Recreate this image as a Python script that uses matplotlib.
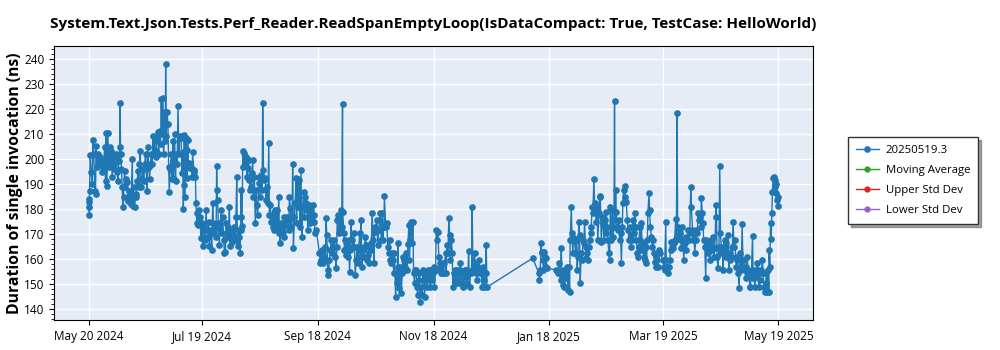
import datetime as dt

import matplotlib
matplotlib.use("Agg")
import matplotlib.pyplot as plt
import matplotlib.dates as mdates
from matplotlib.ticker import AutoMinorLocator, MultipleLocator
import numpy as np

plt.rcParams["font.family"] = ["Open Sans", "DejaVu Sans"]

# --- run timings: day offset from 2024-05-20, duration in ns ---
START = dt.datetime(2024, 5, 20)

days_summer = [
    0.0, 0.05, 0.2, 0.5, 0.55, 0.9, 1.4, 1.9, 2.3, 2.8, 3.3, 3.7, 4.0, 4.4, 4.9, 5.5,
    6.2, 6.7, 7.2, 7.9, 8.5, 9.0, 9.3, 9.7, 10.2, 10.7, 11.1, 11.6, 12.0, 12.5, 12.9,
    13.4, 13.7, 14.3, 14.6, 15.1, 15.5, 16.0, 16.4, 16.7, 16.9, 17.4, 17.8, 18.1, 18.5,
    19.0, 19.4, 19.9, 20.2, 20.8, 21.3, 21.7, 22.2, 22.5, 23.1, 23.4, 23.8, 24.3, 24.8,
    25.2, 25.7, 26.1, 26.6, 26.9, 27.3, 27.8, 28.3, 28.7, 29.2, 29.6, 30.1, 30.5, 30.8,
    31.3, 31.9, 32.2, 32.7, 33.1, 33.6, 34.0, 34.5, 34.9, 35.4, 35.7, 36.3, 36.6, 37.1,
    37.5, 38.0, 38.4, 38.7, 39.3, 39.6, 40.1, 40.5, 40.7, 41.0, 41.4, 41.9, 42.3, 42.6,
    43.1, 43.7, 44.2, 44.5, 44.9, 45.4, 45.9, 46.3, 46.8, 47.2, 47.7, 48.1,
    48.8, 49.3, 49.7, 50.0, 50.4, 50.5, 50.9, 51.4, 51.8, 52.1, 52.3, 52.8, 53.2, 53.7,
    54.1, 54.6, 54.9, 55.5, 55.8, 56.4, 56.7, 57.1, 57.2, 57.6, 58.1, 58.5, 58.8, 59.3,
    59.7, 60.2, 60.6, 61.1, 61.6, 62.0, 62.5, 62.9, 63.4, 63.7, 64.3, 64.6, 65.0, 65.5,
    65.9, 66.4, 66.9, 67.3, 67.6, 67.8, 68.1, 68.5, 69.0, 69.4, 69.9, 70.3, 70.8, 71.3,
    71.7, 72.2, 72.5, 73.1, 73.4, 74.0, 74.3, 74.7, 75.2, 75.7, 76.1, 76.6, 76.9, 77.5,
    77.8, 78.2, 78.5, 78.7, 79.2, 79.6, 79.9, 80.3, 80.5, 80.6, 81.0, 81.4, 81.7, 82.2,
    82.8, 83.1, 83.6, 84.0, 84.5, 84.9, 85.4, 85.8, 86.3, 86.6, 87.0, 87.5, 88.0, 88.4,
    88.7, 89.3, 89.8, 90.2, 90.7, 91.0, 91.6, 91.9, 92.3, 92.8, 93.3, 93.7, 94.0, 94.6,
    95.1, 95.4, 96.0, 96.3, 96.8, 97.2, 97.7, 98.1, 98.6, 98.9, 99.5, 99.8, 100.4,
]
vals_summer = [
    184.0, 182.7, 180.7, 177.6, 187.3, 201.5, 194.7, 190.0, 207.6, 202.0, 187.3, 186.0,
    205.3, 196.7, 202.0, 198.0, 200.7, 199.3, 194.7, 196.7, 204.7, 191.3, 210.3, 189.3,
    210.3, 196.7, 204.7, 198.0, 203.3, 192.7, 202.0, 196.0, 198.0, 202.0, 200.7, 194.7,
    191.3, 199.3, 204.7, 222.3, 202.0, 196.0, 188.7, 180.7, 184.7, 195.3, 188.7, 192.0,
    190.7, 183.3, 187.3, 184.7, 182.0, 183.3, 200.0, 181.3, 188.7, 180.7, 184.7, 186.0,
    191.3, 195.3, 188.7, 198.0, 203.3, 188.7, 192.0, 196.0, 191.3, 198.0, 202.0, 196.0,
    187.3, 204.7, 196.7, 192.0, 198.0, 202.0, 198.0, 209.3, 202.0, 207.3, 200.7, 203.3,
    208.7, 210.7, 202.0, 211.1, 206.0, 224.0, 210.0, 224.4, 202.0, 218.7, 207.3, 237.8,
    209.3, 218.7, 214.0, 196.7, 186.7, 196.0, 202.0, 192.0, 207.3, 192.0, 210.0, 191.3,
    202.0, 198.0, 221.3, 202.0, 209.3,
    208.3, 194.3, 202.9, 180.0, 189.6, 209.6, 184.9, 208.3, 203.6, 192.3, 207.6, 196.9,
    198.3, 196.3, 196.9, 192.9, 202.7, 195.6, 194.9, 192.7, 182.3, 174.3, 178.3, 173.6,
    179.6, 174.3, 176.9, 168.3, 174.3, 165.0, 171.6, 172.9, 167.6, 179.6, 171.6, 168.9,
    174.9, 165.0, 170.3, 171.6, 163.6, 182.3, 174.3, 170.3, 172.9, 168.9, 197.2, 187.6,
    183.6, 174.3, 165.6, 171.6, 179.6, 170.3, 176.9, 167.6, 162.3, 162.9, 174.3, 168.9,
    172.9, 168.9, 180.9, 165.0, 170.3, 166.9, 171.6, 168.9, 172.9, 167.6, 176.9, 192.7,
    168.9, 165.0, 171.6, 168.9, 162.3, 171.6, 187.6, 176.9, 173.2, 203.0, 196.9, 202.3,
    197.6, 200.9, 192.9, 196.3, 199.6, 191.6, 187.6, 188.9, 194.3, 199.6, 184.9, 192.9,
    174.3, 187.6, 181.6, 177.6, 192.9, 190.3, 184.9, 193.6, 187.6, 222.3, 195.6, 191.6,
    192.3, 183.6, 188.9, 182.3, 206.3, 177.6, 181.6, 174.9, 176.9, 172.9, 178.3, 171.6,
    179.6, 174.3, 179.6, 172.9, 184.9,
]

days_autumn = [
    100.7, 101.2, 101.6, 102.1, 102.4, 103.0, 103.3, 103.9, 104.2, 104.7, 105.1, 105.6,
    106.0, 106.5, 106.9, 107.4, 107.7, 108.1, 108.6, 109.0, 109.5, 109.8, 110.4, 110.7,
    111.3, 111.6, 112.1, 112.5, 113.0, 113.5, 113.9, 114.2, 114.8, 115.3, 115.7, 116.0,
    116.5, 117.1, 117.4, 117.9, 118.3, 118.8, 119.2, 119.5, 120.2,
    121.8, 122.3, 122.7, 123.2, 123.6, 124.1, 124.5, 125.0, 125.3, 125.7, 126.2, 126.6,
    127.1, 127.6, 128.0, 128.5, 128.9, 129.4, 129.7, 130.3, 130.6, 131.0, 131.2, 131.5,
    131.9, 132.4, 132.9, 133.3, 133.6, 134.0, 134.1, 134.7, 135.0, 135.5, 135.9, 136.4,
    136.8, 137.3, 137.7, 138.2, 138.5, 138.9, 139.4, 139.9, 140.3, 140.7, 141.2, 141.7,
    142.1, 142.6, 143.0, 143.5, 143.8, 144.2, 144.7, 145.2, 145.6, 146.1, 146.5, 147.0,
    147.3, 147.9, 148.2, 148.8, 149.1, 149.6, 150.2, 150.5,
    150.9, 151.4, 152.1, 152.6, 153.1, 153.9, 154.4, 154.9, 155.3, 155.8, 156.1, 156.7,
    157.4, 157.9, 158.4, 158.8, 159.1, 159.7, 160.2, 160.5, 161.1, 161.4, 162.0, 162.3,
    162.8, 163.2, 163.5, 163.7, 164.1, 164.4, 165.0, 165.5, 165.8, 166.4, 166.7, 167.2,
    167.6, 168.1, 168.5, 169.0, 169.3, 169.7, 170.2, 170.8, 171.1, 171.5, 172.0, 172.3,
    172.9, 173.2, 173.7, 174.3, 174.6, 175.0, 175.5, 176.0, 176.4, 176.7, 177.3, 177.8,
    178.1, 178.5, 179.0, 179.6, 179.9, 180.4, 180.8, 181.3,
]
vals_autumn = [
    170.3, 166.3, 174.3, 171.6, 170.9, 176.9, 168.9, 174.3, 173.6, 176.9, 175.6, 171.6,
    184.9, 180.3, 172.9, 176.9, 198.0, 164.5, 176.9, 182.3, 192.3, 174.3, 191.9, 180.9,
    191.6, 172.9, 195.6, 168.9, 180.9, 186.9, 176.9, 184.9, 182.3, 179.6, 171.6, 176.9,
    181.6, 174.3, 179.6, 175.6, 181.6, 177.6, 174.9, 170.3, 171.6,
    162.3, 158.3, 159.6, 163.6, 158.3, 160.9, 164.9, 159.6, 176.3, 169.6, 155.6, 153.6,
    159.6, 163.6, 167.6, 162.3, 164.9, 167.6, 164.9, 160.9, 156.3, 164.9, 175.6, 177.6,
    170.3, 176.3, 171.6, 179.6, 172.9, 221.8, 178.9, 170.3, 163.6, 167.6, 161.6, 166.3,
    160.9, 167.6, 154.9, 163.6, 174.9, 167.6, 164.9, 170.3, 164.9, 153.6, 159.6, 164.9,
    158.3, 163.6, 170.3, 160.9, 175.6, 156.9, 163.6, 160.9, 164.9, 168.9, 165.6, 159.6,
    161.6, 164.9, 158.3, 166.3, 163.6, 178.3, 167.6, 158.3,
    170.9, 172.9, 175.6, 165.6, 171.6, 178.3, 167.6, 178.5, 167.6, 172.9, 185.2, 172.9,
    174.5, 164.9, 162.3, 167.6, 159.6, 158.3, 162.3, 159.6, 154.3, 162.3, 144.9, 154.3,
    150.3, 166.3, 156.9, 148.3, 154.3, 156.9, 146.5, 154.3, 160.9, 155.6, 159.6, 156.9,
    162.3, 155.6, 166.0, 173.6, 159.6, 167.6, 174.9, 166.3, 174.9, 154.3, 150.3, 155.6,
    155.6, 148.9, 145.6, 154.3, 151.6, 142.9, 148.9, 145.6, 154.3, 155.6, 144.9, 154.3,
    153.6, 148.9, 155.6, 151.6, 155.6, 148.9, 155.6, 151.6,
]

days_winter = [
    181.7, 182.2, 182.5, 183.1, 183.4, 184.0, 184.3, 184.8, 185.2, 185.5, 186.1, 186.6,
    186.9, 187.3, 187.8, 188.4, 188.7, 189.1, 189.6, 190.1, 190.5, 190.8, 191.4, 191.9,
    192.2, 192.8, 193.1, 193.6, 194.0, 194.5, 194.9, 195.4, 195.8, 196.1, 196.6, 197.2,
    197.5, 198.0, 198.4, 198.9, 199.3, 199.6, 200.2, 200.5, 201.0, 201.6, 202.1, 202.4,
    202.8, 203.3, 203.7, 204.2, 204.6, 205.1, 205.4, 206.0, 206.3, 206.8, 207.2, 207.7,
    208.1, 208.6, 208.9, 209.5, 209.8, 210.2,
    234.3,
    237.6, 237.9, 238.3, 238.8, 239.0, 239.3, 239.7, 240.0, 240.4, 240.7, 241.1, 241.4,
    241.8, 246.7, 247.6, 248.1, 248.5, 249.0, 249.4, 249.7, 250.3, 250.6, 251.1, 251.7,
    252.0, 252.5, 252.9, 253.4, 253.8, 254.1, 254.7, 255.0, 255.5, 255.9, 256.4, 256.9,
    257.3, 257.8, 258.2, 258.7, 259.1, 259.4, 259.9, 260.5, 260.8, 261.3, 261.7, 262.2,
    262.6, 263.1, 263.5, 264.0, 264.3, 264.9, 265.2, 265.7, 266.1, 266.6, 267.0, 267.5,
    267.9, 268.2, 268.7, 269.3, 269.6, 270.0, 270.5, 271.0, 271.4, 271.9, 272.3, 272.8,
    273.1, 273.7, 274.0, 274.5, 274.9, 275.3, 275.8, 276.3, 276.7, 277.2, 277.5, 277.7,
    278.1, 278.4, 278.9, 279.3, 279.8, 280.2, 280.7, 281.1, 281.6, 281.9, 282.3, 282.8,
    283.2, 283.7, 284.2, 284.6, 285.1, 285.5, 286.0, 286.3, 286.9, 287.2, 287.8, 288.1,
    288.6, 289.0, 289.5, 289.9, 290.4, 290.7, 291.1, 291.6, 292.2, 292.5, 293.0, 293.4,
    293.9, 294.3, 294.8, 295.1, 295.7, 296.0, 296.4, 296.9, 297.4, 297.8, 298.1, 298.7,
    299.2, 299.5, 300.1, 300.4, 301.0, 301.7,
]
vals_winter = [
    154.3, 156.9, 148.9, 155.6, 171.6, 167.6, 170.9, 160.9, 156.9, 158.3, 154.3, 154.3,
    158.3, 154.3, 158.3, 162.3, 154.3, 165.6, 162.3, 176.4, 169.6, 159.6, 167.6, 162.3,
    148.9, 154.3, 155.6, 151.6, 150.3, 155.6, 154.3, 150.3, 155.6, 158.3, 151.6, 154.3,
    148.9, 149.2, 155.6, 152.9, 155.6, 150.3, 154.3, 163.3, 148.9, 154.3, 155.6, 180.9,
    155.6, 158.3, 162.3, 154.3, 156.9, 151.6, 156.9, 159.6, 154.3, 155.6, 154.3, 148.9,
    156.9, 151.6, 148.9, 154.3, 165.6, 148.7,
    160.3,
    154.3, 151.6, 155.6, 166.3, 162.9, 162.3, 159.6, 155.6, 162.9, 160.9, 156.9, 160.3,
    156.3, 155.6, 154.5, 158.3, 154.3, 151.6, 164.3, 154.3, 149.6, 155.6, 148.9, 154.3,
    152.3, 156.9, 147.6, 156.9, 146.9, 167.6, 180.9, 170.3, 162.3, 168.3, 167.6, 162.3,
    167.6, 155.6, 160.9, 174.9, 169.6, 150.3, 162.3, 159.6, 167.6, 166.3, 174.9, 164.9,
    160.3, 162.3, 159.6, 164.9, 167.6, 170.3, 172.9, 180.9, 178.3, 191.9, 182.3, 179.6,
    174.9, 180.9, 167.6, 178.3, 184.9, 185.2, 166.9, 176.9, 174.3, 167.6, 175.6, 170.3,
    178.9, 172.9, 167.6, 162.3, 159.6, 180.9, 167.6, 179.6, 168.9, 172.9, 223.3, 175.6,
    187.6, 178.9, 172.9, 171.6, 175.6, 167.6, 170.3, 158.3, 172.9, 182.3, 187.6, 189.2,
    184.9, 182.9, 175.6, 171.6, 167.6, 172.9, 164.9, 169.6, 167.6, 175.6, 170.3, 178.3,
    172.9, 167.6, 162.3, 160.9, 164.9, 172.9, 167.6, 174.5, 163.6, 166.3, 160.9, 159.6,
    164.9, 158.3, 167.6, 178.3, 186.3, 179.6, 172.9, 168.9, 164.9, 167.6, 162.3, 158.9,
    160.9, 156.9, 159.6, 156.9, 163.6, 162.3,
]

days_spring = [
    303.1, 303.6, 303.9, 304.5, 304.8, 305.4, 305.7, 306.2, 306.6, 307.1, 307.5, 308.0,
    308.3, 308.9, 309.2, 309.8, 310.1, 310.5, 310.8, 311.2, 311.5, 311.9, 312.4, 312.8,
    313.3, 313.6, 314.0, 314.5, 315.0, 315.4, 315.9, 316.3, 316.8, 317.2, 317.7, 318.0,
    318.6, 318.9, 319.4, 319.8, 320.3, 320.7, 321.2, 321.6, 322.1, 322.4, 323.0, 323.3,
    323.8, 324.2, 324.5, 325.1, 325.6, 326.0, 326.3, 326.8, 327.4, 327.7, 328.2, 328.6,
    329.1, 329.5, 330.0, 330.4, 330.9, 331.2, 331.6, 332.1, 332.6, 333.0, 333.4, 333.9,
    334.4, 334.8, 335.1, 335.6, 336.2, 336.5, 337.0, 337.4, 337.9, 338.3, 338.6, 339.2,
    339.7, 340.0, 340.6, 340.9, 341.4, 341.8, 342.3, 342.7, 343.2, 343.6, 343.9, 344.4,
    344.8, 345.3, 345.7, 346.2, 346.7, 347.1, 347.4, 348.0, 348.5, 348.8, 349.2, 349.7,
    350.3, 350.6, 351.0, 351.5, 352.0, 352.4, 352.7, 353.2, 353.8, 354.1, 354.5, 355.0,
    355.5, 355.9, 356.2, 356.8, 357.3, 357.6, 358.0, 358.5, 358.9, 359.0, 359.4, 359.8,
    360.1, 360.5, 360.8, 361.2, 361.5, 361.9, 362.0, 362.6, 362.9, 363.3, 363.6, 364.0,
]
vals_spring = [
    159.6, 156.9, 155.6, 174.9, 159.6, 156.9, 154.3, 156.9, 159.6, 163.6, 166.9, 164.9,
    164.3, 166.3, 167.6, 175.9, 167.6, 218.2, 172.9, 168.9, 172.3, 170.3, 167.6, 164.3,
    172.9, 167.6, 159.6, 166.3, 168.9, 163.6, 167.6, 171.6, 167.6, 170.3, 188.9, 180.9,
    171.6, 167.6, 170.3, 162.3, 167.6, 171.6, 170.3, 178.3, 175.6, 176.9, 172.9, 184.3,
    178.3, 174.3, 167.6, 164.9, 152.3, 167.6, 166.3, 162.3, 164.9, 159.6, 163.6, 167.6,
    164.9, 168.9, 160.9, 164.3, 176.9, 181.6, 160.9, 156.3, 164.9, 197.2, 170.3, 162.3,
    164.9, 155.6, 162.3, 167.6, 160.9, 166.3, 162.3, 169.6, 155.6, 162.3, 159.6, 160.9,
    164.9, 174.9, 164.9, 167.6, 160.9, 156.9, 159.6, 154.3, 148.3, 156.9, 162.3, 155.6,
    174.0, 156.9, 159.6, 155.6, 152.3, 156.9, 160.9, 155.6, 154.3, 148.9, 148.9, 154.3,
    169.2, 152.3, 155.6, 148.9, 152.9, 154.3, 158.3, 155.6, 148.9, 151.6, 154.3, 155.6,
    159.6, 154.3, 148.9, 146.9, 150.3, 154.3, 146.9, 155.6, 146.9, 163.6, 156.9, 174.3,
    168.0, 178.3, 186.9, 192.3, 192.9, 188.9, 191.6, 186.3, 190.0, 183.6, 184.9, 181.2,
]

build = "20250519.3"
tick_dates = ["2024-05-20", "2024-07-19", "2024-09-18", "2024-11-18",
              "2025-01-18", "2025-03-19", "2025-05-19"]

days = np.array(days_summer + days_autumn + days_winter + days_spring)
vals = np.array(vals_summer + vals_autumn + vals_winter + vals_spring)
when = [START + dt.timedelta(days=float(d)) for d in days]

fig = plt.figure(figsize=(10, 3.5), dpi=100)
ax = fig.add_axes([0.054, 0.086, 0.759, 0.783])
ax.set_facecolor("#E5ECF6")

ax.plot(when, vals, color="#1f77b4", lw=1.0, marker="o", ms=3.8, label=build)
# the statistics series carry no points here, they only show in the legend
ax.plot([], [], color="#2ca02c", lw=1.0, marker="o", ms=3.5, label="Moving Average")
ax.plot([], [], color="#d62728", lw=1.0, marker="o", ms=3.5, label="Upper Std Dev")
ax.plot([], [], color="#9467bd", lw=1.0, marker="o", ms=3.5, label="Lower Std Dev")

ax.set_ylim(135.6, 245.2)
ax.yaxis.set_major_locator(MultipleLocator(10))
ax.yaxis.set_minor_locator(AutoMinorLocator(5))
ax.set_xticks([dt.datetime.fromisoformat(t) for t in tick_dates])
ax.xaxis.set_major_formatter(mdates.DateFormatter("%b %d %Y"))
ax.tick_params(axis="both", labelsize=8.5)

ax.grid(True, color="white", lw=1.0)
ax.set_axisbelow(True)
for sp in ax.spines.values():
    sp.set_color("black")

ax.set_title("System.Text.Json.Tests.Perf_Reader.ReadSpanEmptyLoop(IsDataCompact: True, TestCase: HelloWorld)",
             fontsize=11, fontweight="bold", pad=13)
ax.set_ylabel("Duration of single invocation (ns)", fontsize=11.3, fontweight="bold", labelpad=1)

leg = ax.legend(loc="upper left", bbox_to_anchor=(0.848, 0.609), bbox_transform=fig.transFigure,
                borderaxespad=0, fontsize=8.2, fancybox=False, shadow=True, edgecolor="#333333",
                handlelength=2.0, handletextpad=0.6, labelspacing=0.8, borderpad=0.7)
leg.get_frame().set_linewidth(1.0)

fig.savefig("out.png", dpi=100)
